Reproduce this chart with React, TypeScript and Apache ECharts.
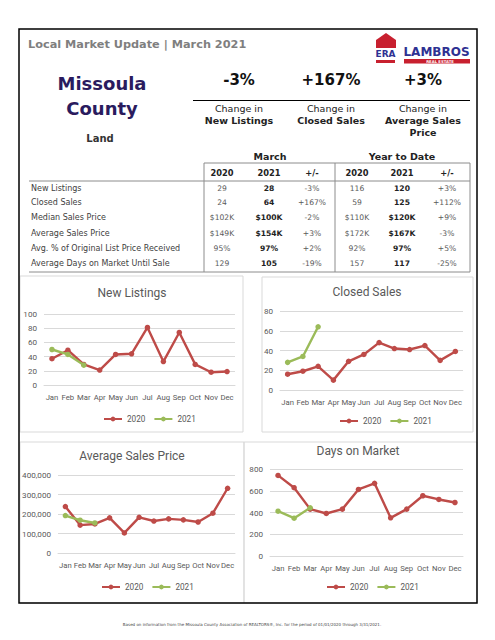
import React, { useEffect, useRef } from 'react';
import * as echarts from 'echarts';

const months = ['Jan', 'Feb', 'Mar', 'Apr', 'May', 'Jun', 'Jul', 'Aug', 'Sep', 'Oct', 'Nov', 'Dec'];
const newListings2020 = [37, 49, 29, 21, 43, 44, 81, 33, 74, 29, 18, 19];
const newListings2021 = [50, 43, 28];
const closedSales2020 = [16, 19, 24, 10, 29, 36, 48, 42, 41, 45, 30, 39];
const closedSales2021 = [28, 34, 64];
const avgPrice2020 = [238000, 143000, 149000, 180000, 103000, 183000, 164000, 175000, 170000, 159000, 204000, 332000];
const avgPrice2021 = [192000, 168000, 154000];
const dom2020 = [741, 628, 431, 391, 431, 612, 668, 351, 431, 554, 520, 492];
const dom2021 = [412, 348, 443];
const seriesNames = ['2020', '2021'];
const chartTitles = ['New Listings', 'Closed Sales', 'Average Sales Price', 'Days on Market'];

const headlinePct = ['-3%', '+167%', '+3%'];
const headlineLabel = [['Change in', 'New Listings'], ['Change in', 'Closed Sales'], ['Change in', 'Average Sales', 'Price']];

const rowLabels = [
  'New Listings',
  'Closed Sales',
  'Median Sales Price',
  'Average Sales Price',
  'Avg. % of Original List Price Received',
  'Average Days on Market Until Sale',
];
const tableHeaders = ['2020', '2021', '+/-', '2020', '2021', '+/-'];
const march2020 = ['29', '24', '$102K', '$149K', '95%', '129'];
const march2021 = ['28', '64', '$100K', '$154K', '97%', '105'];
const marchChange = ['-3%', '+167%', '-2%', '+3%', '+2%', '-19%'];
const ytd2020 = ['116', '59', '$110K', '$172K', '92%', '157'];
const ytd2021 = ['120', '125', '$120K', '$167K', '97%', '117'];
const ytdChange = ['+3%', '+112%', '+9%', '-3%', '+5%', '-25%'];

const VERD = '"DejaVu Sans", Verdana, sans-serif';
const CAL = 'Roboto, "Liberation Sans", sans-serif';
const C2020 = '#be4b48';
const C2021 = '#9bbb59';
const AXIS_TEXT = '#595959';
const GRID_LINE = '#d9d9d9';

function txt(text: string, x: number, y: number, font: string, fill = '#333', align = 'center') {
  return {
    type: 'text',
    x,
    y,
    silent: true,
    style: { text, font, fill, textAlign: align, textVerticalAlign: 'middle', verticalAlign: 'middle' },
  };
}
function ln(x1: number, y1: number, x2: number, y2: number, stroke: string, lineWidth = 1) {
  return { type: 'line', silent: true, shape: { x1, y1, x2, y2 }, style: { stroke, lineWidth } };
}
function box(x: number, y: number, width: number, height: number, stroke: string, lineWidth = 1, z = 0) {
  return { type: 'rect', silent: true, z, shape: { x, y, width, height }, style: { fill: 'none', stroke, lineWidth } };
}

function buildGraphics() {
  const g: any[] = [];
  // outer border
  g.push(box(19, 29, 458, 574, '#000', 1.5));
  g.push(txt('Local Market Update | March 2021', 28, 44, `bold 11.3px ${VERD}`, '#7f7f7f', 'left'));

  // logo
  g.push({
    type: 'polygon',
    silent: true,
    shape: { points: [[386, 33], [396, 40], [396, 48], [376, 48], [376, 40]] },
    style: { fill: '#c8202f' },
  });
  g.push(txt('ERA', 385.5, 53.5, `bold 9px ${VERD}`, '#2e3192'));
  g.push({ type: 'rect', silent: true, shape: { x: 376, y: 60, width: 19, height: 3 }, style: { fill: '#c8202f' } });
  g.push(txt('LAMBROS', 436.5, 52, `bold 12px ${VERD}`, '#2e3192'));
  g.push({ type: 'rect', silent: true, shape: { x: 404, y: 59, width: 66, height: 4.5 }, style: { fill: '#c8202f' } });
  g.push(txt('REAL ESTATE', 440, 61.4, `bold 3.8px ${VERD}`, '#ffffff'));

  // title block
  g.push(txt('Missoula', 102, 83, `bold 18px ${VERD}`, '#2a1b5e'));
  g.push(txt('County', 102, 108, `bold 18px ${VERD}`, '#2a1b5e'));
  g.push(txt('Land', 100, 138, `bold 10px ${VERD}`, '#333'));

  const hx = [239, 331, 423];
  headlinePct.forEach((p, i) => g.push(txt(p, hx[i], 80, `bold 15px ${VERD}`, '#111')));
  g.push(ln(193, 100.5, 470, 100.5, '#000', 1.2));
  headlineLabel.forEach((lines, i) =>
    lines.forEach((l, j) => g.push(txt(l, hx[i], 108 + j * 12, `${j === 0 ? '' : 'bold '}9.5px ${VERD}`, '#222')))
  );

  g.push(txt('March', 270, 156, `bold 9.5px ${VERD}`, '#222'));
  g.push(txt('Year to Date', 402, 156, `bold 9.5px ${VERD}`, '#222'));

  // table
  const TL = '#8c8c8c';
  g.push(ln(204, 163, 470, 163, TL));
  g.push(ln(29, 181, 470, 181, TL));
  g.push(ln(29, 272, 470, 272, TL));
  [204, 335, 470].forEach((x) => g.push(ln(x, 163, x, 272, TL)));
  const cx = [222, 269, 312, 357, 402, 447];
  tableHeaders.forEach((h, i) => g.push(txt(h, cx[i], 173, `bold 8.3px ${VERD}`, '#222')));
  const rowY = [188, 202, 217, 233, 248, 263];
  const cols = [march2020, march2021, marchChange, ytd2020, ytd2021, ytdChange];
  rowLabels.forEach((lab, r) => {
    g.push(txt(lab, 31, rowY[r], `8px ${VERD}`, '#404040', 'left'));
    cols.forEach((col, c) => {
      const bold = c === 1 || c === 4;
      g.push(txt(col[r], cx[c], rowY[r], `${bold ? 'bold ' : ''}7.6px ${VERD}`, bold ? '#222' : '#5a5a5a'));
    });
  });

  // chart panels
  g.push(box(20, 276, 223, 156, GRID_LINE, 1, -1));
  g.push(box(262, 277, 211, 155, GRID_LINE, 1, -1));
  g.push(box(20, 442, 224, 161, GRID_LINE, 1, -1));
  g.push(box(244, 442, 233, 161, GRID_LINE, 1, -1));
  const titlePos = [[132, 293], [367, 292], [132, 456], [358, 451]];
  chartTitles.forEach((t, i) => g.push(txt(t, titlePos[i][0], titlePos[i][1], `12px ${CAL}`, AXIS_TEXT)));

  // footer
  g.push(
    txt(
      'Based on information from the Missoula County Association of REALTORS®, Inc. for the period of 01/01/2020 through 3/31/2021.',
      252,
      624,
      `4px ${VERD}`,
      '#444'
    )
  );
  return g;
}

const grids = [
  { left: 44, top: 314, width: 191, height: 71 },
  { left: 280, top: 311, width: 183, height: 79 },
  { left: 58, top: 475, width: 177, height: 78 },
  { left: 270, top: 469, width: 193, height: 87 },
];
const yRanges = [
  { max: 100, interval: 20 },
  { max: 80, interval: 20 },
  { max: 400000, interval: 100000 },
  { max: 800, interval: 200 },
];
const legendPos = [
  { left: 98, top: 410 },
  { left: 334, top: 412 },
  { left: 96, top: 578 },
  { left: 321, top: 578 },
];
const seriesData = [
  [newListings2020, newListings2021],
  [closedSales2020, closedSales2021],
  [avgPrice2020, avgPrice2021],
  [dom2020, dom2021],
];

export default function App() {
  const ref = useRef<HTMLDivElement>(null);
  useEffect(() => {
    if (!ref.current) return;
    const chart = echarts.init(ref.current, null, { renderer: 'svg' });
    const series: any[] = [];
    seriesData.forEach((pair, gi) => {
      pair.forEach((data, si) => {
        const color = si === 0 ? C2020 : C2021;
        series.push({
          type: 'line',
          name: seriesNames[si],
          xAxisIndex: gi,
          yAxisIndex: gi,
          data,
          symbol: 'circle',
          symbolSize: 5.5,
          itemStyle: { color },
          lineStyle: { color, width: 2.4 },
          z: 3 + si,
        });
      });
    });
    chart.setOption({
      animation: false,
      backgroundColor: '#ffffff',
      grid: grids.map((g) => ({ ...g, containLabel: false })),
      xAxis: grids.map((_, i) => ({
        type: 'category',
        gridIndex: i,
        data: months,
        boundaryGap: true,
        axisLine: { show: true, lineStyle: { color: GRID_LINE, width: 1 } },
        axisTick: { show: false },
        axisLabel: { color: AXIS_TEXT, fontFamily: CAL, fontSize: 7.7, margin: 8, interval: 0, hideOverlap: false },
      })),
      yAxis: grids.map((_, i) => ({
        type: 'value',
        gridIndex: i,
        min: 0,
        max: yRanges[i].max,
        interval: yRanges[i].interval,
        axisLine: { show: false },
        axisTick: { show: false },
        splitLine: { lineStyle: { color: GRID_LINE, width: 1 } },
        axisLabel: {
          color: AXIS_TEXT,
          fontFamily: CAL,
          fontSize: 8.1,
          margin: 7,
          formatter: (v: number) => v.toLocaleString('en-US'),
        },
      })),
      legend: legendPos.map((p) => ({
        ...p,
        data: seriesNames,
        orient: 'horizontal',
        itemWidth: 18,
        itemHeight: 6,
        itemGap: 8,
        textStyle: { color: AXIS_TEXT, fontFamily: CAL, fontSize: 8.2 },
        selectedMode: false,
      })),
      series,
      graphic: { elements: buildGraphics() },
    });
    return () => chart.dispose();
  }, []);
  return <div ref={ref} style={{ position: 'absolute', left: 0, top: 0, width: 495, height: 640 }} />;
}
